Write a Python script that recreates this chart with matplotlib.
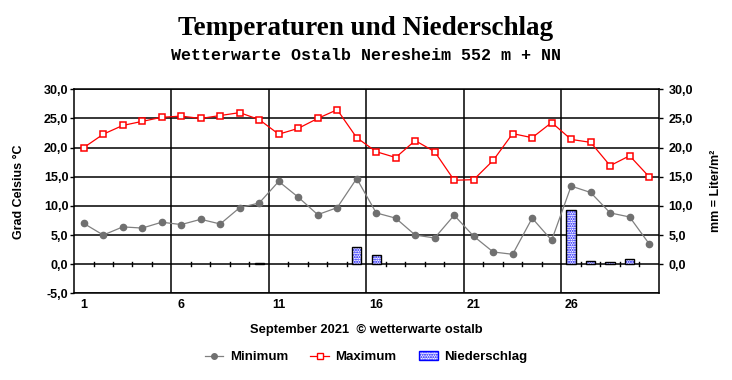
import matplotlib
matplotlib.use("Agg")
import matplotlib.pyplot as plt
from matplotlib.lines import Line2D
from matplotlib.patches import Patch

# daily values, September 2021
days = list(range(1, 31))
t_min = [7.0, 5.0, 6.4, 6.2, 7.2, 6.8, 7.7, 6.9, 9.7, 10.5,
         14.2, 11.5, 8.5, 9.7, 14.7, 8.8, 7.9, 5.0, 4.5, 8.4,
         4.8, 2.1, 1.7, 7.9, 4.1, 13.4, 12.3, 8.8, 8.1, 3.5]
t_max = [20.0, 22.3, 23.8, 24.5, 25.2, 25.4, 25.0, 25.5, 26.0, 24.8,
         22.3, 23.3, 25.0, 26.5, 21.7, 19.3, 18.3, 21.2, 19.3, 14.4,
         14.5, 17.8, 22.4, 21.7, 24.3, 21.4, 20.9, 16.9, 18.6, 15.0]
rain = [0, 0, 0, 0, 0, 0, 0, 0, 0, 0.2,
        0, 0, 0, 0, 2.9, 1.6, 0, 0, 0, 0,
        0, 0, 0, 0, 0, 9.3, 0.5, 0.3, 0.9, 0]

y_ticks = [-5, 0, 5, 10, 15, 20, 25, 30]
y_labels = ["-5,0", "0,0", "5,0", "10,0", "15,0", "20,0", "25,0", "30,0"]
rain_ticks = [0, 5, 10, 15, 20, 25, 30]
rain_labels = ["0,0", "5,0", "10,0", "15,0", "20,0", "25,0", "30,0"]
x_ticks = [1, 6, 11, 16, 21, 26]

SANS = "Liberation Sans"
BLUE = "#0000ff"
GRAY = "#808080"

fig = plt.figure(figsize=(7.32, 3.80), dpi=100)
ax = fig.add_axes([0.1011, 0.228, 0.799, 0.537])

ax.set_xlim(0.5, 30.5)
ax.set_ylim(-5, 30)

# grid: horizontal every 5 degrees, vertical every 5 days (at boundaries)
for y in y_ticks:
    ax.axhline(y, color="black", lw=1.1, zorder=1)
for d in days:
    if d % 5 == 0 and d < 30:
        ax.axvline(d + 0.5, color="black", lw=1.1, zorder=1)
    elif d < 30:
        ax.plot([d + 0.5, d + 0.5], [-0.35, 0.35], color="black", lw=1, zorder=1)

# precipitation bars (only days with rain): blue dotted fill, black edge
wet_days = [d for d, r in zip(days, rain) if r > 0]
wet_rain = [r for r in rain if r > 0]
ax.bar(wet_days, wet_rain, width=0.48, facecolor="white", edgecolor=BLUE,
       hatch=".......", lw=0, zorder=2)
ax.bar(wet_days, wet_rain, width=0.48, facecolor="none", edgecolor="black",
       lw=1, zorder=3)

ax.plot(days, t_min, color=GRAY, lw=0.9, marker="o", ms=4.5,
        mfc="#707070", mec="#707070", zorder=4)
ax.plot(days, t_max, color="red", lw=0.9, marker="s", ms=5,
        mfc="white", mec="red", mew=1.1, zorder=5)

for s in ax.spines.values():
    s.set_linewidth(1.1)

ax.set_yticks(y_ticks)
ax.set_yticklabels(y_labels, fontfamily=SANS, fontweight="bold", fontsize=9)
ax.tick_params(axis="y", length=3, width=1, pad=1)
ax.set_xticks(x_ticks)
ax.set_xticklabels([str(x) for x in x_ticks], fontfamily=SANS,
                   fontweight="bold", fontsize=9)
ax.tick_params(axis="x", length=0, pad=4)
ax.set_ylabel("Grad Celsius °C", fontfamily=SANS, fontweight="bold",
              fontsize=9, labelpad=14)

ax2 = ax.twinx()
ax2.set_ylim(-5, 30)
ax2.set_yticks(rain_ticks)
ax2.set_yticklabels(rain_labels, fontfamily=SANS, fontweight="bold", fontsize=9)
ax2.tick_params(axis="y", length=3, width=1, pad=4)
ax2.set_ylabel("mm = Liter/m²", fontfamily=SANS, fontweight="bold",
               fontsize=9, labelpad=12)
for s in ax2.spines.values():
    s.set_visible(False)

fig.text(0.5, 0.925, "Temperaturen und Niederschlag", ha="center", va="center",
         fontfamily="Liberation Serif", fontweight="bold", fontsize=19.5)
fig.text(0.5, 0.853, "Wetterwarte Ostalb Neresheim 552 m + NN", ha="center",
         va="center", fontfamily="Liberation Mono", fontweight="bold", fontsize=12)
fig.text(0.5, 0.132, "September 2021  © wetterwarte ostalb", ha="center",
         va="center", fontfamily=SANS, fontweight="bold", fontsize=9.3)

handles = [
    Line2D([], [], color=GRAY, lw=0.9, marker="o", ms=4,
           mfc="#707070", mec="#707070"),
    Line2D([], [], color="red", lw=0.9, marker="s", ms=4,
           mfc="white", mec="red"),
    Patch(facecolor="white", edgecolor=BLUE, hatch="......."),
]
fig.legend(handles, ["Minimum", "Maximum", "Niederschlag"], loc="center",
           bbox_to_anchor=(0.5, 0.06), ncol=3, frameon=False,
           prop={"family": SANS, "weight": "bold", "size": 9.5},
           handlelength=1.4, handletextpad=0.5, columnspacing=1.7)

fig.savefig("out.png", dpi=100, facecolor="white")
